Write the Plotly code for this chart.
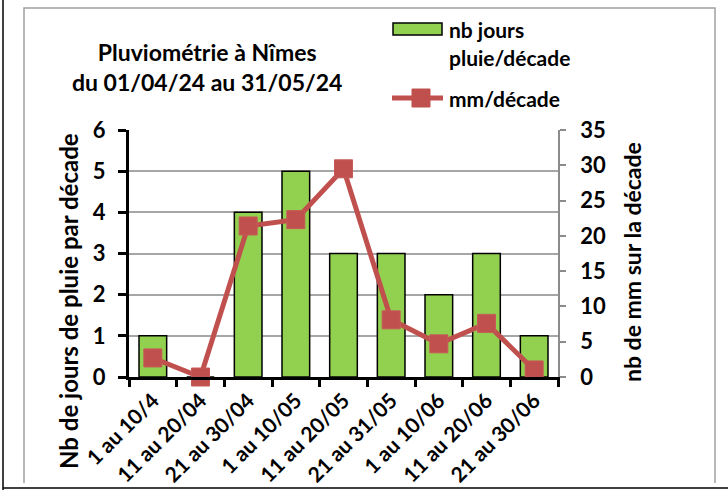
import plotly.graph_objects as go

categories = ["1 au 10/4", "11 au 20/04", "21 au 30/04", "1 au 10/05", "11 au 20/05",
              "21 au 31/05", "1 au 10/06", "11 au 20/06", "21 au 30/06"]
jours_pluie = [1, 0, 4, 5, 3, 3, 2, 3, 1]
mm_decade = [2.7, 0.0, 21.4, 22.3, 29.5, 8.1, 4.7, 7.6, 1.0]

left_ticks = [0, 1, 2, 3, 4, 5, 6]
right_ticks = [0, 5, 10, 15, 20, 25, 30, 35]

W, H = 728, 490
L, R, T, B = 129, 558, 130, 377
FONT = "Lato"
GREEN = "#92D050"
RED = "#C0504D"


def px(x):
    return (x - L) / (R - L)


def py(y):
    return (B - y) / (B - T)


fig = go.Figure()
fig.add_trace(go.Bar(
    x=categories, y=jours_pluie, name="nb jours pluie/décade",
    marker=dict(color=GREEN, line=dict(color="black", width=1.5)),
    width=0.58, yaxis="y",
))
fig.add_trace(go.Scatter(
    x=categories, y=mm_decade, name="mm/décade", mode="lines+markers",
    line=dict(color=RED, width=5),
    marker=dict(symbol="square", size=18, color=RED, line=dict(color="#C65A57", width=1)),
    yaxis="y2", cliponaxis=False,
))

tick_font = dict(family=FONT, size=22, color="black", weight="bold")

fig.update_layout(
    width=W, height=H, autosize=False,
    margin=dict(l=L, r=W - R, t=T, b=H - B, autoexpand=False),
    paper_bgcolor="white", plot_bgcolor="white",
    showlegend=False,
    xaxis=dict(
        type="category", tickangle=-45, automargin=False,
        tickfont=dict(family=FONT, size=21, color="black", weight="bold"),
        showline=True, linecolor="black", linewidth=3,
        ticks="outside", tickson="boundaries", ticklen=7, tickwidth=3, tickcolor="black",
        showgrid=False, range=[-0.5, 8.5], fixedrange=True,
    ),
    yaxis=dict(
        range=[0, 6], tickvals=left_ticks, tickfont=tick_font, automargin=False,
        ticklabelstandoff=8,
        showline=True, linecolor="black", linewidth=3,
        ticks="outside", ticklen=8, tickwidth=3, tickcolor="black",
        showgrid=True, gridcolor="#A6A6A6", gridwidth=1.5,
        zeroline=False, fixedrange=True,
    ),
    yaxis2=dict(
        range=[0, 35], tickvals=right_ticks, tickfont=tick_font, automargin=False,
        ticklabelstandoff=10,
        overlaying="y", side="right",
        showline=True, linecolor="#8C8C8C", linewidth=1.5,
        ticks="outside", ticklen=6, tickwidth=1.5, tickcolor="#8C8C8C",
        showgrid=False, zeroline=False, fixedrange=True,
    ),
)

ann_font = dict(family=FONT, size=21, color="black", weight="bold")
annotations = [
    dict(text="Pluviométrie à Nîmes<br>du 01/04/24 au 31/05/24", x=px(207), y=py(67),
         xanchor="center", yanchor="middle", showarrow=False, align="center",
         font=dict(family=FONT, size=23, color="black", weight="bold")),
    dict(text="nb jours", x=px(447), y=py(30), xanchor="left", yanchor="middle",
         showarrow=False, font=ann_font),
    dict(text="pluie/décade", x=px(447), y=py(57), xanchor="left", yanchor="middle",
         showarrow=False, font=ann_font),
    dict(text="mm/décade", x=px(447), y=py(98), xanchor="left", yanchor="middle",
         showarrow=False, font=ann_font),
    dict(text="Nb de jours de pluie par décade", x=px(68), y=py(301), textangle=-90,
         xanchor="center", yanchor="middle", showarrow=False,
         font=dict(family=FONT, size=24, color="black", weight="bold")),
    dict(text="nb de mm sur la décade", x=px(632), y=py(262), textangle=-90,
         xanchor="center", yanchor="middle", showarrow=False,
         font=dict(family=FONT, size=23, color="black", weight="bold")),
]
for a in annotations:
    a["xref"] = "paper"
    a["yref"] = "paper"
fig.update_layout(annotations=annotations)

shapes = [
    # legend symbols
    dict(type="rect", x0=px(393), x1=px(442), y0=py(23), y1=py(35),
         fillcolor=GREEN, line=dict(color="black", width=1.5)),
    dict(type="line", x0=px(392), x1=px(443), y0=py(98), y1=py(98),
         line=dict(color=RED, width=5)),
    dict(type="rect", x0=px(412), x1=px(430), y0=py(89), y1=py(107),
         fillcolor=RED, line=dict(color=RED, width=1)),
    # frames
    dict(type="line", x0=px(3), x1=px(3), y0=py(0), y1=py(490),
         line=dict(color="black", width=1.5)),
    dict(type="line", x0=px(3), x1=px(728), y0=py(488), y1=py(488),
         line=dict(color="black", width=1.5)),
    dict(type="path",
         path=f"M {px(24)} {py(483)} L {px(24)} {py(8)} L {px(715)} {py(8)} L {px(715)} {py(483)}",
         line=dict(color="#A0A0A0", width=1.5)),
]
for s in shapes:
    s["xref"] = "paper"
    s["yref"] = "paper"
fig.update_layout(shapes=shapes)

fig.write_html("out.html", config={"displayModeBar": False},
               post_script="document.body.style.margin='0';document.body.style.overflow='hidden';")
